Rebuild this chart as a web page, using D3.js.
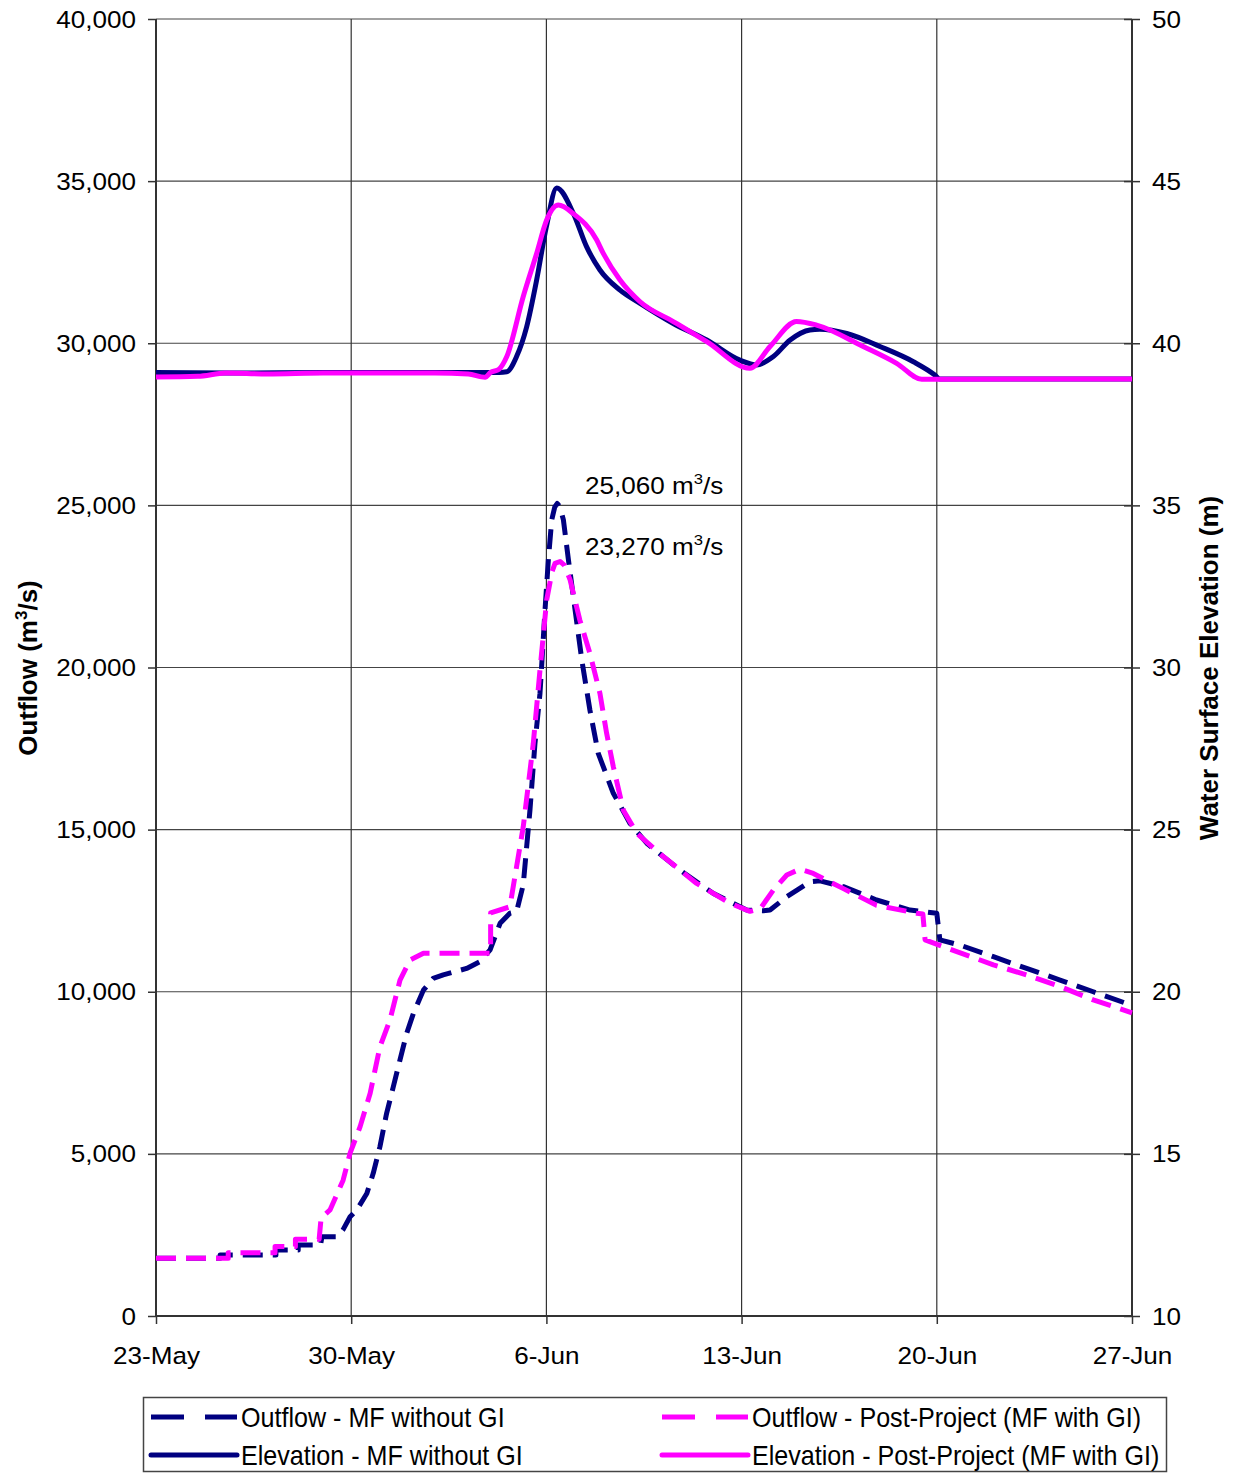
<!DOCTYPE html>
<html><head><meta charset="utf-8">
<script src="https://cdn.jsdelivr.net/npm/d3@7"></script>
<style>body{margin:0;background:#fff}svg{display:block;font-family:"Liberation Sans",Arial,sans-serif}</style>
</head><body><svg id="c" width="1233" height="1473"></svg>
<script>
// ---- data (day offset from 23-May, value) ----
const xTickLabels = ["23-May","30-May","6-Jun","13-Jun","20-Jun","27-Jun"];
const leftTicks = [0,5000,10000,15000,20000,25000,30000,35000,40000];
const rightTicks = [10,15,20,25,30,35,40,45,50];
const outflowNoGI = [[0,1780],[2.3,1780],[2.3,1880],[4.3,1880],[4.3,2035],[5.1,2035],[5.1,2190],[5.9,2190],[5.95,2445],[6.5,2445],[6.7,2650],[6.96,3060],[7.2,3270],[7.56,3780],[7.79,4400],[8.03,5220],[8.27,6250],[8.51,7070],[8.75,7900],[8.99,8720],[9.23,9330],[9.59,10050],[9.94,10410],[10.3,10520],[11.14,10720],[11.62,10930],[11.98,11290],[12.34,12110],[12.69,12420],[12.93,12470],[13.17,13300],[13.41,15600],[13.59,17660],[13.77,19200],[13.95,21770],[14.07,23320],[14.19,24550],[14.3,24950],[14.39,25060],[14.49,24950],[14.61,24550],[14.79,23320],[15.03,21770],[15.27,20230],[15.56,18690],[15.86,17350],[16.4,16120],[17.0,15190],[17.6,14580],[18.79,13750],[19.99,13030],[21.18,12520],[21.78,12500],[22.02,12520],[22.62,12930],[23.45,13390],[23.81,13420],[24.65,13240],[25.84,12830],[27.04,12520],[28.0,12420],[28.11,11600],[28.83,11440],[30.03,11080],[31.22,10720],[32.42,10360],[33.61,10000],[35,9580]];
const outflowGI = [[0,1780],[2.59,1780],[2.59,1950],[4.27,1950],[4.27,2140],[5.0,2140],[5.0,2365],[5.85,2365],[5.92,3020],[6.24,3270],[6.71,4190],[6.96,5020],[7.32,5840],[7.68,6870],[8.03,8300],[8.39,9130],[8.75,10360],[9.11,10980],[9.59,11190],[12.0,11190],[12.0,12430],[12.69,12620],[13.17,15090],[13.53,17660],[13.77,19920],[14.01,22080],[14.2,22950],[14.31,23210],[14.49,23270],[14.65,23150],[14.85,22700],[15.2,21460],[15.56,20440],[15.92,19200],[16.16,17970],[16.4,16940],[16.76,15600],[17.24,14890],[18.19,14170],[19.39,13340],[20.58,12730],[21.3,12480],[21.66,12550],[22.14,13140],[22.62,13600],[23.09,13780],[23.57,13650],[24.65,13180],[25.84,12670],[27.28,12420],[27.5,12400],[27.58,11600],[28.23,11390],[30.03,10830],[31.22,10520],[32.42,10160],[33.61,9750],[35,9350]];
const elevNoGI = [[0,39.1],[3,39.08],[6,39.1],[10,39.1],[12.3,39.1],[12.58,39.12],[12.93,39.59],[13.29,40.5],[13.65,41.95],[14.0,43.6],[14.37,44.79],[14.97,44.0],[15.44,42.98],[15.92,42.26],[16.64,41.64],[17.36,41.23],[18.55,40.61],[19.75,40.1],[20.94,39.48],[21.54,39.33],[22.14,39.59],[22.74,40.1],[23.45,40.41],[23.8,40.43],[24.77,40.3],[25.96,39.9],[27.16,39.43],[27.93,39.02],[28.1,38.9],[35,38.9]];
const elevGI = [[0,38.96],[1.5,38.98],[2.5,39.08],[4,39.05],[6,39.08],[10,39.08],[11.2,39.05],[11.8,38.95],[12.0,39.1],[12.3,39.2],[12.58,39.59],[13.17,41.44],[13.65,42.77],[14.01,43.8],[14.43,44.26],[14.96,44.0],[15.8,43.19],[16.04,42.77],[16.64,41.95],[17.36,41.28],[18.55,40.67],[19.75,40.05],[21.3,39.23],[22.02,39.9],[22.97,40.67],[23.69,40.56],[25.36,39.9],[26.56,39.38],[27.46,38.89],[35,38.9]];
const peakLabels = ["25,060","23,270"];
const peakValues = [25060, 23270];
const seriesNames = ["Outflow - MF without GI","Outflow - Post-Project (MF with GI)","Elevation - MF without GI","Elevation - Post-Project (MF with GI)"];

const NAVY = "#000080", MAG = "#ff00ff";
const svg = d3.select("#c");
const L = 156, R = 1132, T = 19, B = 1316;
const start = Date.UTC(2008,4,23);
const toDate = d => new Date(start + d*86400000);
const x = d3.scaleUtc().domain([toDate(0), toDate(35)]).range([L,R]);
const yL = d3.scaleLinear().domain([0,40000]).range([B,T]);
const yR = d3.scaleLinear().domain([10,50]).range([B,T]);
const xTicks = xTickLabels.map((_,i)=>toDate(i*7));

// grid
const g = svg.append("g");
g.selectAll(".hg").data(leftTicks).join("line").attr("x1",L).attr("x2",R)
  .attr("y1",d=>yL(d)).attr("y2",d=>yL(d)).attr("stroke","#444").attr("stroke-width",1.2);
g.selectAll(".vg").data(xTicks).join("line").attr("y1",T).attr("y2",B)
  .attr("x1",d=>x(d)).attr("x2",d=>x(d)).attr("stroke","#333").attr("stroke-width",1.2);

// axes
const axL = d3.axisLeft(yL).tickValues(leftTicks).tickSize(8).tickFormat(d3.format(","));
const axR = d3.axisRight(yR).tickValues(rightTicks).tickSize(8);
const axB = d3.axisBottom(x).tickValues(xTicks).tickSize(8).tickFormat((d,i)=>xTickLabels[i]);
function style(sel){
  sel.select(".domain").attr("stroke","#333").attr("stroke-width",2);
  sel.selectAll(".tick line").attr("stroke","#333").attr("stroke-width",1.5);
  sel.selectAll("text").attr("font-size",23.5).attr("fill","#000").attr("font-family","Liberation Sans, Arial, sans-serif");
}
const gl = svg.append("g").attr("transform",`translate(${L},0)`).call(axL).call(style);
gl.select(".domain").attr("d",`M0,${T}V${B}`);
gl.selectAll(".tick text").attr("x",null).attr("dy",null)
  .attr("text-anchor","end").attr("transform","translate(-20,8) scale(1.11,1)");
const gr = svg.append("g").attr("transform",`translate(${R},0)`).call(axR).call(style);
gr.select(".domain").attr("d",`M0,${T}V${B}`);
gr.selectAll(".tick line").attr("x1",-8).attr("x2",8);
gr.selectAll(".tick text").attr("x",null).attr("dy",null)
  .attr("text-anchor","start").attr("transform","translate(20,8) scale(1.11,1)");
const gb = svg.append("g").attr("transform",`translate(0,${B})`).call(axB).call(style);
gb.select(".domain").attr("d",`M${L},0H${R}`);
gb.selectAll(".tick text").attr("y",null).attr("dy",null)
  .attr("text-anchor","middle").attr("transform","translate(0,48) scale(1.11,1)");

// lines
const lineL = d3.line().x(d=>x(toDate(d[0]))).y(d=>yL(d[1]));
const lineR = d3.line().x(d=>x(toDate(d[0]))).y(d=>yR(d[1])).curve(d3.curveMonotoneX);
const plot = svg.append("g");
plot.append("path").datum(elevNoGI).attr("d",lineR).attr("fill","none").attr("stroke",NAVY).attr("stroke-width",5).attr("stroke-linejoin","round");
plot.append("path").datum(elevGI).attr("d",lineR).attr("fill","none").attr("stroke",MAG).attr("stroke-width",5).attr("stroke-linejoin","round");
plot.append("path").datum(outflowNoGI).attr("d",lineL).attr("fill","none").attr("stroke",NAVY).attr("stroke-width",5).attr("stroke-linejoin","round").attr("stroke-dasharray","20,10");
plot.append("path").datum(outflowGI).attr("d",lineL).attr("fill","none").attr("stroke",MAG).attr("stroke-width",5).attr("stroke-linejoin","round").attr("stroke-dasharray","20,10");

// annotations
const annY = [yL(peakValues[0])-9, yL(peakValues[1])-6];
peakLabels.forEach((lab,i)=>{
  const t = svg.append("text").attr("font-size",23.5).attr("transform",`translate(585,${annY[i]}) scale(1.11,1)`);
  t.append("tspan").text(lab+" m");
  t.append("tspan").attr("font-size",15).attr("dy",-10).text("3");
  t.append("tspan").attr("dy",10).text("/s");
});

// axis titles
const tl = svg.append("text").attr("font-size",26).attr("font-weight","bold").attr("text-anchor","middle")
  .attr("transform",`translate(37,668) rotate(-90)`);
tl.append("tspan").text("Outflow (m");
tl.append("tspan").attr("font-size",17).attr("dy",-10).text("3");
tl.append("tspan").attr("dy",10).text("/s)");
svg.append("text").attr("font-size",26).attr("font-weight","bold").attr("text-anchor","middle")
  .attr("transform",`translate(1218,668) rotate(-90)`).text("Water Surface Elevation (m)");

// legend
svg.append("rect").attr("x",143.5).attr("y",1397.5).attr("width",1023).attr("height",74)
  .attr("fill","#fff").attr("stroke","#444").attr("stroke-width",1.5);
const leg = [
  {name:seriesNames[0],c:NAVY,dash:"33,21",lx:151,tx:241,y:1417},
  {name:seriesNames[1],c:MAG,dash:"33,21",lx:662,tx:752,y:1417},
  {name:seriesNames[2],c:NAVY,dash:null,lx:151,tx:241,y:1455},
  {name:seriesNames[3],c:MAG,dash:null,lx:662,tx:752,y:1455}];
leg.forEach(e=>{
  const ln = svg.append("line").attr("x1",e.lx).attr("x2",e.lx+86).attr("y1",e.y).attr("y2",e.y)
    .attr("stroke",e.c).attr("stroke-width",5).attr("stroke-linecap", e.dash?"butt":"round");
  if(e.dash) ln.attr("stroke-dasharray",e.dash);
  svg.append("text").attr("font-size",27).attr("transform",`translate(${e.tx},${e.y+10}) scale(0.93,1)`).text(e.name);
});
</script></body></html>
